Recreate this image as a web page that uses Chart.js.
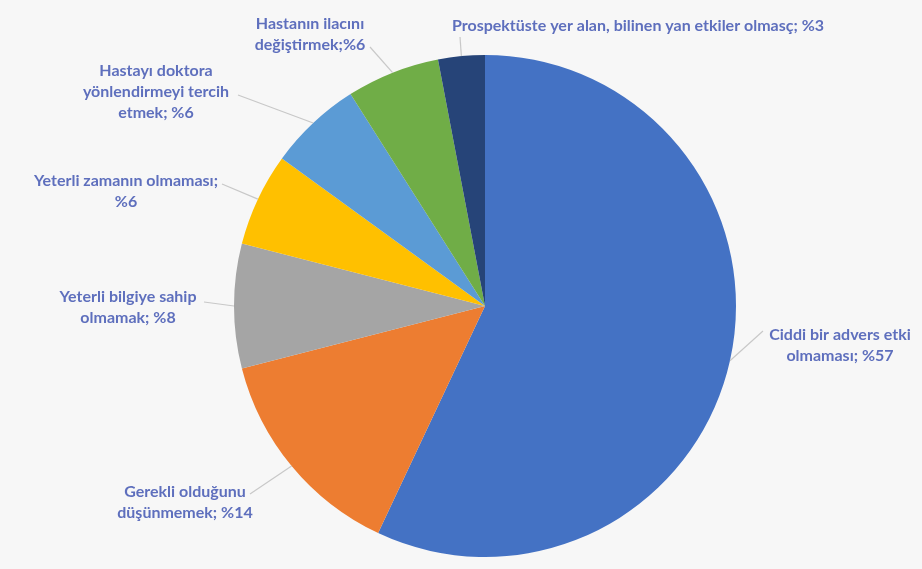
<!DOCTYPE html>
<html>
<head>
<meta charset="utf-8">
<script src="https://cdn.jsdelivr.net/npm/chart.js@4/dist/chart.umd.min.js"></script>
<style>
  html, body { margin: 0; padding: 0; background: #f7f7f7; }
  #wrap { width: 922px; height: 569px; position: relative; }
</style>
</head>
<body>
<div id="wrap"><canvas id="c"></canvas></div>
<script>
const categories = [
  "Ciddi bir advers etki olmaması",
  "Gerekli olduğunu düşünmemek",
  "Yeterli bilgiye sahip olmamak",
  "Yeterli zamanın olmaması",
  "Hastayı doktora yönlendirmeyi tercih etmek",
  "Hastanın ilacını değiştirmek",
  "Prospektüste yer alan, bilinen yan etkiler olmasç"
];
const values = [57, 14, 8, 6, 6, 6, 3];
const labelLines = [
  ["Ciddi bir advers etki", "olmaması; %57"],
  ["Gerekli olduğunu", "düşünmemek; %14"],
  ["Yeterli bilgiye sahip", "olmamak; %8"],
  ["Yeterli zamanın olmaması;", "%6"],
  ["Hastayı doktora", "yönlendirmeyi tercih", "etmek; %6"],
  ["Hastanın ilacını", "değiştirmek;%6"],
  ["Prospektüste yer alan, bilinen yan etkiler olmasç; %3"]
];
const colors = ["#4472C4", "#ED7D31", "#A5A5A5", "#FFC000", "#5B9BD5", "#70AD47", "#264478"];

// label layout: centre x, first line y, leader start point
const labelLayout = [
  {cx: 840, y: 335, lx: 763, ly: 331},
  {cx: 185, y: 492, lx: 250, ly: 494},
  {cx: 128, y: 297, lx: 204, ly: 302},
  {cx: 126, y: 181, lx: 222, ly: 184},
  {cx: 156, y: 71,  lx: 238, ly: 95},
  {cx: 310, y: 24,  lx: 370, ly: 47},
  {cx: 638, y: 26,  lx: 460, ly: 37}
];

const labelPlugin = {
  id: 'excelLabels',
  afterDatasetsDraw(chart) {
    const ctx = chart.ctx;
    const meta = chart.getDatasetMeta(0);
    ctx.save();
    meta.data.forEach((arc, i) => {
      const p = arc.getProps(['x', 'y', 'startAngle', 'endAngle', 'outerRadius'], true);
      const mid = (p.startAngle + p.endAngle) / 2;
      const ex = p.x + Math.cos(mid) * p.outerRadius;
      const ey = p.y + Math.sin(mid) * p.outerRadius;
      const L = labelLayout[i];
      ctx.strokeStyle = '#c8c8c8';
      ctx.lineWidth = 1.2;
      ctx.beginPath();
      ctx.moveTo(L.lx, L.ly);
      ctx.lineTo(ex, ey);
      ctx.stroke();
    });
    ctx.fillStyle = '#5e6fbd';
    ctx.font = 'bold 16px Lato';
    ctx.textAlign = 'center';
    ctx.textBaseline = 'middle';
    labelLines.forEach((lines, i) => {
      const L = labelLayout[i];
      lines.forEach((t, k) => ctx.fillText(t, L.cx, L.y + k * 21));
    });
    ctx.restore();
  }
};

new Chart(document.getElementById('c'), {
  type: 'pie',
  data: {
    labels: categories,
    datasets: [{
      data: values,
      backgroundColor: colors,
      borderColor: '#ffffff',
      borderWidth: 0
    }]
  },
  options: {
    responsive: true,
    maintainAspectRatio: false,
    animation: false,
    layout: { padding: { left: 48, right: 0, top: 55, bottom: 12 } },
    plugins: {
      legend: { display: false },
      tooltip: { enabled: false },
      title: { display: false }
    }
  },
  plugins: [labelPlugin]
});
</script>
</body>
</html>
